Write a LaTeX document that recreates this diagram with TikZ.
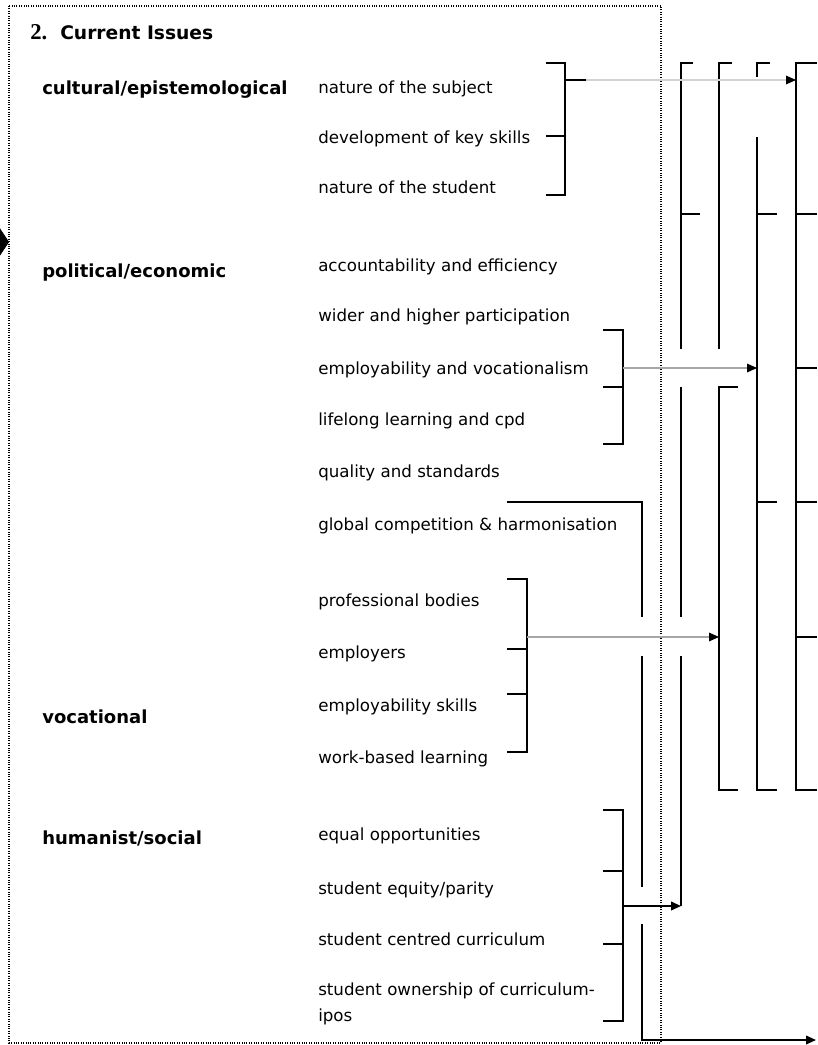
\documentclass[tikz,border=0pt]{standalone}
\usepackage{fontspec}
\setmainfont{DejaVu Sans}
\newfontfamily\numfont{Liberation Serif}
\usetikzlibrary{arrows.meta}

\begin{document}
\begin{tikzpicture}[
  x=0.75pt, y=-0.75pt,
  font=\fontsize{12.5}{15}\selectfont,
  item/.style={anchor=base west, inner sep=0pt},
  group/.style={anchor=base west, inner sep=0pt, font=\fontsize{13.5}{16}\selectfont\bfseries},
  brace/.style={line width=1.3pt},
  feed/.style={draw=gray!70, line width=0.8pt, -{Triangle[length=7.5pt, width=6.5pt, color=black]}},
  hardfeed/.style={brace, -{Triangle[length=7.5pt, width=6.5pt]}},
  frame/.style={densely dotted, line width=0.8pt}
]

\useasboundingbox (0,0) rectangle (817,1045);

% dotted frame round the issues
\draw[frame] (9,6) rectangle (661,1043);

% arrow coming in from the left
\coordinate (incoming) at (-25,242);
\draw[-{Triangle[length=8pt, width=24pt]}] (incoming) -- (9,242);

\node[anchor=base west, inner sep=0pt, font=\fontsize{14}{16}\selectfont\bfseries] (title)
  at (30,40) {{\numfont\bfseries\fontsize{17}{18}\selectfont 2.}\ \ Current Issues};

% the four groups
\node[group] (cultural) at (42,95) {cultural/epistemological};
\node[group] (political) at (42,277) {political/economic};
\node[group] (vocational) at (42,723) {vocational};
\node[group] (humanist) at (42,844) {humanist/social};

% issues of each group
\node[item] (subject) at (318,94) {nature of the subject};
\node[item] (keyskills) at (318,144) {development of key skills};
\node[item] (student) at (318,194) {nature of the student};

\node[item] (account) at (318,271) {accountability and efficiency};
\node[item] (wider) at (318,321) {wider and higher participation};
\node[item] (employ) at (318,374) {employability and vocationalism};
\node[item] (lifelong) at (318,425) {lifelong learning and cpd};
\node[item] (quality) at (318,477) {quality and standards};
\node[item] (global) at (318,530) {global competition \& harmonisation};

\node[item] (bodies) at (318,606) {professional bodies};
\node[item] (employers) at (318,658) {employers};
\node[item] (empskills) at (318,711) {employability skills};
\node[item] (workbased) at (318,763) {work-based learning};

\node[item] (equal) at (318,840) {equal opportunities};
\node[item] (equity) at (318,894) {student equity/parity};
\node[item] (centred) at (318,945) {student centred curriculum};
\node[item, align=left] (ownership) at (318,1021) {student ownership of curriculum-\\[4.5pt]ipos};

% brackets on the issues
\draw[brace] (546,63) -- (565,63) -- (565,195) -- (546,195);
\draw[brace] (546,136) -- (565,136);
\draw[brace] (565,80) -- (586,80) coordinate (culturalout);

\draw[brace] (603,330) -- (623,330) -- (623,444) -- (603,444);
\draw[brace] (603,387) -- (623,387);
\coordinate (politicalout) at (623,368);

\draw[brace] (507,579) -- (527,579) -- (527,752) -- (507,752);
\draw[brace] (507,649) -- (527,649);
\draw[brace] (507,694) -- (527,694);
\coordinate (vocationalout) at (527,637);

\draw[brace] (603,810) -- (623,810) -- (623,1021) -- (603,1021);
\draw[brace] (603,871) -- (623,871);
\draw[brace] (603,944) -- (623,944);
\coordinate (humanistout) at (623,906);

% columns on the right
\draw[brace] (693,63) -- (681,63) -- (681,349);
\draw[brace] (681,387) -- (681,617);
\draw[brace] (681,656) -- (681,906) coordinate (colA);
\draw[brace] (681,214) -- (700,214);

\draw[brace] (732,63) -- (719,63) -- (719,349);
\draw[brace] (738,387) -- (719,387) -- (719,790) -- (738,790);
\coordinate (colB) at (719,637);

\draw[brace] (770,63) -- (757,63) -- (757,77);
\draw[brace] (757,137) -- (757,790) -- (777,790);
\draw[brace] (757,214) -- (777,214);
\draw[brace] (757,502) -- (777,502);
\coordinate (colC) at (757,368);

\draw[brace] (817,63) -- (796,63) -- (796,790) -- (817,790);
\coordinate (colD) at (796,80);
\draw[brace] (796,214) -- (817,214);
\draw[brace] (796,368) -- (817,368);
\draw[brace] (796,502) -- (817,502);
\draw[brace] (796,637) -- (817,637);

% global competition line, broken where arrows cross it
\draw[brace] (507,502) -- (642,502) -- (642,617);
\draw[brace] (642,656) -- (642,887);
\coordinate (outgoing) at (816,1040);
\draw[hardfeed] (642,924) -- (642,1040) -- (outgoing);

% links into the columns
\draw[feed, draw=gray!35] (culturalout) -- (colD);
\draw[feed] (politicalout) -- (colC);
\draw[feed] (vocationalout) -- (colB);
\draw[hardfeed] (humanistout) -- (colA);

\end{tikzpicture}
\end{document}
